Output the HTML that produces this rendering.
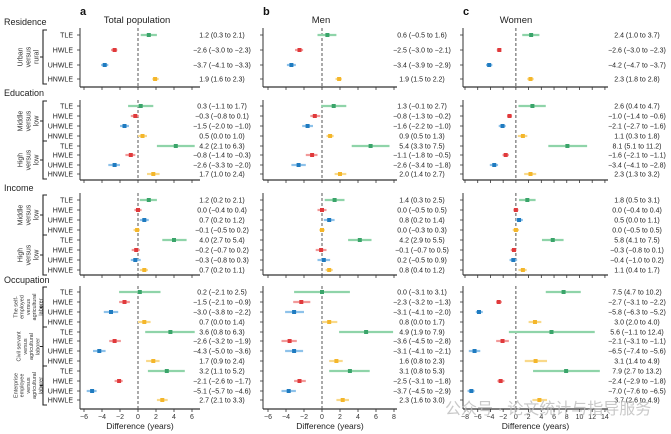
<!DOCTYPE html>
<html><head><meta charset="utf-8"><style>
html,body{margin:0;padding:0;background:#fff;width:671px;height:434px;overflow:hidden}
svg{display:block;font-family:"Liberation Sans",sans-serif}
</style></head><body>
<svg id="chart" width="671" height="434" viewBox="0 0 671 434"></svg>
<script>
const rowLabels = ["TLE","HWLE","UHWLE","HNWLE"];
// panel a: Total population [est, lo, hi] per row
const totalEst = [1.2,-2.6,-3.7,1.9, 0.3,-0.3,-1.5,0.5, 4.2,-0.8,-2.6,1.7, 1.2,0.0,0.7,-0.1, 4.0,-0.2,-0.3,0.7, 0.2,-1.5,-3.0,0.7, 3.6,-2.6,-4.3,1.7, 3.2,-2.1,-5.1,2.7];
const totalLo  = [0.3,-3.0,-4.1,1.6, -1.1,-0.8,-2.0,0.0, 2.1,-1.4,-3.3,1.0, 0.2,-0.4,0.2,-0.5, 2.7,-0.7,-0.8,0.2, -2.1,-2.1,-3.8,0.0, 0.8,-3.2,-5.0,0.9, 1.1,-2.6,-5.7,2.1];
const totalHi  = [2.1,-2.3,-3.3,2.3, 1.7,0.1,-1.0,1.0, 6.3,-0.3,-2.0,2.4, 2.1,0.4,1.2,0.2, 5.4,0.2,0.3,1.1, 2.5,-0.9,-2.2,1.4, 6.3,-1.9,-3.6,2.4, 5.2,-1.7,-4.6,3.3];
// panel b: Men
const menEst = [0.6,-2.5,-3.4,1.9, 1.3,-0.8,-1.6,0.9, 5.4,-1.1,-2.6,2.0, 1.4,0.0,0.8,0.0, 4.2,-0.1,0.2,0.8, 0.0,-2.3,-3.1,0.8, 4.9,-3.6,-3.1,1.6, 3.1,-2.5,-3.7,2.3];
const menLo  = [-0.5,-3.0,-3.9,1.5, -0.1,-1.3,-2.2,0.5, 3.3,-1.8,-3.4,1.4, 0.3,-0.5,0.2,-0.3, 2.9,-0.7,-0.5,0.4, -3.1,-3.2,-4.1,0.0, 1.9,-4.5,-4.1,0.8, 0.8,-3.1,-4.5,1.6];
const menHi  = [1.6,-2.1,-2.9,2.2, 2.7,-0.2,-1.0,1.3, 7.5,-0.5,-1.8,2.7, 2.5,0.5,1.4,0.3, 5.5,0.5,0.9,1.2, 3.1,-1.3,-2.0,1.7, 7.9,-2.8,-2.1,2.3, 5.3,-1.8,-2.9,3.0];
// panel c: Women
const womenEst = [2.4,-2.6,-4.2,2.3, 2.6,-1.0,-2.1,1.1, 8.1,-1.6,-3.4,2.3, 1.8,0.0,0.5,0.0, 5.8,-0.3,-0.4,1.1, 7.5,-2.7,-5.8,3.0, 5.6,-2.1,-6.5,3.1, 7.9,-2.4,-7.0,3.7];
const womenLo  = [1.0,-3.0,-4.7,1.8, 0.4,-1.4,-2.7,0.3, 5.1,-2.1,-4.1,1.3, 0.5,-0.4,0.0,-0.5, 4.1,-0.8,-1.0,0.4, 4.7,-3.1,-6.3,2.0, -1.1,-3.1,-7.4,1.4, 2.7,-2.9,-7.6,2.6];
const womenHi  = [3.7,-2.3,-3.7,2.8, 4.7,-0.6,-1.6,1.8, 11.2,-1.1,-2.8,3.2, 3.1,0.4,1.1,0.5, 7.5,0.1,0.2,1.7, 10.2,-2.2,-5.2,4.0, 12.4,-1.1,-5.6,4.9, 13.2,-1.8,-6.5,4.9];
const ticksA = [-6,-4,-2,0,2,4,6];
const ticksB = [-6,-4,-2,0,2,4,6,8];
const ticksC = [-8,-6,-4,-2,0,2,4,6,8,10,12,14];

const NS="http://www.w3.org/2000/svg";
const svg=document.getElementById('chart');
function el(tag,attrs,parent,txt){const e=document.createElementNS(NS,tag);for(const k in attrs)e.setAttribute(k,attrs[k]);if(txt!==undefined)e.textContent=txt;(parent||svg).appendChild(e);return e;}

const rowY=[35,50,65,79, 106,116,126,136,146,155,165,174, 200,210,220,230,240,250,260,270, 292,302,312,322,332,341,351,361,371,381,391,400];
const sections=[{name:"Residence",ty:25,top:28,axis:87,rows:[0,4]},{name:"Education",ty:96,top:100,axis:180,rows:[4,12]},{name:"Income",ty:191,top:193,axis:275,rows:[12,20]},{name:"Occupation",ty:283,top:286,axis:409,rows:[20,32]}];
const colors=["#3aa46a","#e0393b","#1f7bc0","#f4b62a"];
const light=["#8fd4a9","#f29a9a","#8ec2ea","#f9d98a"];
const fmt=v=>(v<0?"−":"")+Math.abs(v).toFixed(1);

const panels=[
 {key:"a",title:"Total population",est:totalEst,lo:totalLo,hi:totalHi,ticks:ticksA,x0:84,px:9,axL:80,axR:200,tc:222,lx:80,tx:137},
 {key:"b",title:"Men",est:menEst,lo:menLo,hi:menHi,ticks:ticksB,x0:268,px:9,axL:263,axR:397,tc:422,lx:263,tx:321},
 {key:"c",title:"Women",est:womenEst,lo:womenLo,hi:womenHi,ticks:ticksC,x0:465,px:6.36,axL:463,axR:608,tc:637,lx:463,tx:516}
];

panels.forEach(p=>{
 const xs=v=>p.x0+(v-p.ticks[0])*p.px;
 const g=el('g',{});  
 const lt=el('text',{x:p.lx,y:15,'font-size':11,'font-weight':'bold',fill:'#111'},g,p.key);
  
 const tt=el('text',{x:p.tx,y:23,'font-size':9.5,'text-anchor':'middle',fill:'#222'},g,p.title);
  
 sections.forEach((s,si)=>{
  const ax=el('g',{},g);  
  el('line',{x1:p.axL,x2:p.axR,y1:s.axis,y2:s.axis,stroke:'#333','stroke-width':1.2},ax);
  el('line',{x1:p.axL,x2:p.axL,y1:s.top,y2:s.axis,stroke:'#333','stroke-width':1},ax);
  p.ticks.forEach(t=>{
   el('line',{x1:xs(t),x2:xs(t),y1:s.axis,y2:s.axis+3,stroke:'#333','stroke-width':0.8},ax);
   if(si===3){const tl=el('text',{x:xs(t),y:s.axis+10,'font-size':7,'text-anchor':'middle',fill:'#333'},ax,t<0?"−"+Math.abs(t):t);
     }
  });
  el('line',{x1:xs(0),x2:xs(0),y1:s.top,y2:s.axis,stroke:'#555','stroke-width':1,'stroke-dasharray':'3,2'},ax);
  for(let r=s.rows[0];r<s.rows[1];r++){
   const y=rowY[r], k=r%4;
   el('line',{x1:p.axL-3,x2:p.axL,y1:y,y2:y,stroke:'#333','stroke-width':0.8},ax);
   const ci=el('line',{x1:xs(p.lo[r]),x2:xs(p.hi[r]),y1:y,y2:y,stroke:light[k],'stroke-width':2.2},g);
    
   const pt=el('rect',{x:xs(p.est[r])-2,y:y-2,width:4,height:4,fill:colors[k]},g);
    
   const vl=el('text',{x:p.tc,y:y+2.5,'font-size':7,'text-anchor':'middle',fill:'#222'},g,fmt(p.est[r])+" ("+fmt(p.lo[r])+" to "+fmt(p.hi[r])+")");
    
  }
 });
 const xt=el('text',{x:(p.axL+p.axR)/2,y:429,'font-size':8.5,'text-anchor':'middle',fill:'#222'},g,"Difference (years)");
  
});

sections.forEach(s=>{
 const st=el('text',{x:4,y:s.ty,'font-size':9,fill:'#222'},svg,s.name);
  
 for(let r=s.rows[0];r<s.rows[1];r++){
  const rl=el('text',{x:73,y:rowY[r]+2.5,'font-size':7,'text-anchor':'end',fill:'#222'},svg,rowLabels[r%4]);
   
 }
});
const groups=[
 {a:0,b:3,lines:["Urban","versus","rural"],fs:7},
 {a:4,b:7,lines:["Middle","versus","low"],fs:7},
 {a:8,b:11,lines:["High","versus","low"],fs:7},
 {a:12,b:15,lines:["Middle","versus","low"],fs:7},
 {a:16,b:19,lines:["High","versus","low"],fs:7},
 {a:20,b:23,lines:["The self-","employed","versus","agricultural","laborer"],fs:5.5},
 {a:24,b:27,lines:["Civil servant","versus","agricultural","laborer"],fs:5.5},
 {a:28,b:31,lines:["Enterprise","employee","versus","agricultural","laborer"],fs:5.5}
];
groups.forEach(gp=>{
 const y1=rowY[gp.a]-5,y2=rowY[gp.b]+5,ym=(y1+y2)/2;
 const br=el('path',{d:`M47 ${y1} H43 V${y2} H47 M43 ${ym} H40`,fill:'none',stroke:'#222','stroke-width':1.1});
  
 const n=gp.lines.length, lh=gp.fs+0.8;
 const t=el('text',{transform:`translate(28 ${ym}) rotate(-90)`,'font-size':gp.fs,'text-anchor':'middle',fill:'#333'});
  
 gp.lines.forEach((ln,i)=>el('tspan',{x:0,y:(i-(n-1)/2)*lh+gp.fs*0.35},t,ln));
});
const wm=el('text',{x:445,y:414,'font-size':16,fill:'#bbb','fill-opacity':0.8,'font-family':'"Liberation Sans","Noto Sans CJK SC",sans-serif'},svg,"公众号 · 论文统计与指导服务");
 
</script>
</body></html>
